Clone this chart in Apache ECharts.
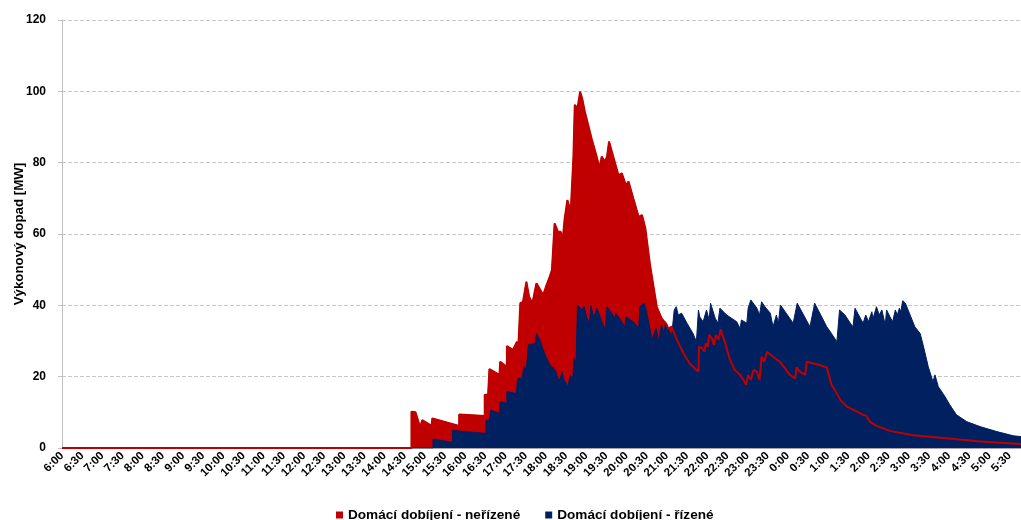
<!DOCTYPE html>
<html>
<head>
<meta charset="utf-8">
<script src="https://cdn.jsdelivr.net/npm/echarts@6/dist/echarts.min.js"></script>
<style>
  html, body { margin: 0; padding: 0; background: #fff; }
  #chart { width: 1021px; height: 520px; }
</style>
</head>
<body>
<div id="chart"></div>
<script>
// x = minutes after 6:00, y = MW
const timeLabels = [
  '6:00', '6:30', '7:00', '7:30', '8:00', '8:30', '9:00', '9:30', '10:00', '10:30',
  '11:00', '11:30', '12:00', '12:30', '13:00', '13:30', '14:00', '14:30', '15:00', '15:30',
  '16:00', '16:30', '17:00', '17:30', '18:00', '18:30', '19:00', '19:30', '20:00', '20:30',
  '21:00', '21:30', '22:00', '22:30', '23:00', '23:30', '0:00', '0:30', '1:00', '1:30',
  '2:00', '2:30', '3:00', '3:30', '4:00', '4:30', '5:00', '5:30'
];

const uncontrolled = [
  [0, 0], [520, 0], [520, 10.2], [526, 10.0], [533, 5.8], [536, 7.8], [550, 6.2], [551, 8.3],
  [591, 6.2], [591, 9.4], [629, 9.0], [629, 14.9], [634, 14.9], [636, 22.1], [651, 20.5],
  [652, 24.2], [662, 22.8], [662, 28.6], [671, 27.5], [677, 29.8], [679, 28.4], [682, 40.6],
  [686, 41], [691, 46.6], [695, 42.4], [700, 40.6], [706, 46.2], [716, 42.9], [721, 45.7],
  [725, 47.6], [729, 49.9], [733, 63], [738, 60.6], [742, 60.6], [745, 58.3], [748, 64.4],
  [752, 69.5], [757, 66.3], [761, 81.7], [763, 96.2], [767, 95.2], [771, 99.9], [774, 98],
  [778, 94.3], [788, 86.8], [795, 82.1], [800, 78.4], [803, 81.7], [808, 80.3], [811, 81.7],
  [814, 85.9], [823, 79.8], [828, 76.5], [833, 77], [839, 73.7], [843, 74.7], [850, 70],
  [858, 64.8], [863, 65.3], [868, 61.6], [875, 51.3], [885, 39.6], [892, 36.4], [900, 34.5],
  [902, 33.5], [907, 34], [915, 30.3], [925, 26.5], [934, 23.7], [947, 21.4], [948, 28.4],
  [953, 27.9], [956, 27], [958, 29.3], [961, 28.4], [963, 31.7], [967, 30.8], [970, 28.9],
  [973, 31.7], [977, 30.3], [980, 33.3], [987, 29.3], [994, 24.7], [1001, 21.9], [1009, 20.5],
  [1014, 19.1], [1018, 17.7], [1021, 20.5], [1025, 19.1], [1029, 21.9], [1034, 21.4],
  [1038, 19.1], [1041, 25.6], [1045, 24.2], [1049, 27], [1058, 25.6], [1068, 24.2],
  [1076, 22.3], [1083, 20.5], [1091, 19.5], [1093, 22.6], [1098, 21.4], [1106, 20.5],
  [1108, 24.2], [1123, 23.5], [1138, 22.6], [1145, 17.7], [1150, 16.3], [1158, 13.5],
  [1168, 11.6], [1183, 10.2], [1192, 9.3], [1197, 9.0], [1202, 7.4], [1210, 6.4], [1222, 5.5],
  [1232, 4.8], [1266, 3.6], [1316, 2.7], [1366, 1.8], [1427, 1.1]
];

const controlled = [
  [0, 0], [552, 0], [552, 2.5], [581, 1.6], [581, 4.9], [631, 4.1], [631, 7.8], [636, 7.8],
  [638, 10.6], [651, 9.7], [652, 13], [662, 12.5], [662, 15.8], [676, 15.3], [678, 19.5],
  [685, 19.5], [687, 22.8], [691, 22.3], [694, 28.9], [704, 29.3], [706, 32.1], [711, 30.3],
  [719, 26.1], [726, 23.3], [734, 21.9], [738, 19.5], [741, 19.1], [744, 21.4], [747, 19.1],
  [753, 17.2], [756, 20.5], [760, 19.5], [762, 25.1], [765, 24.2], [767, 40.1], [773, 38.7],
  [777, 39.6], [781, 36.4], [785, 35], [787, 40.1], [791, 36.4], [796, 39.2], [808, 33.1],
  [811, 39.6], [823, 36.4], [824, 37.8], [838, 34], [839, 36.8], [850, 35.4], [858, 33.6],
  [860, 39.6], [866, 40.6], [870, 38.2], [878, 30.3], [884, 33.5], [888, 29.8], [892, 34.5],
  [896, 32.1], [898, 35.4], [903, 33.1], [907, 31.2], [911, 38.7], [914, 39.6], [917, 37.3],
  [922, 37.8], [930, 35], [939, 32.1], [944, 29.8], [947, 38.7], [949, 36.8], [954, 35.4],
  [959, 38.7], [963, 35.9], [965, 40.6], [972, 36.4], [976, 35], [979, 39.2], [989, 37.3],
  [1004, 35.4], [1009, 33.5], [1011, 35.9], [1019, 35], [1021, 39.2], [1025, 41.5],
  [1034, 39.2], [1038, 37.3], [1041, 41], [1046, 39.6], [1054, 37.8], [1058, 34], [1063, 37.3],
  [1066, 35], [1069, 40.1], [1088, 35], [1094, 40.6], [1113, 34], [1120, 40.6], [1138, 34],
  [1145, 32.1], [1153, 29.8], [1157, 38.7], [1165, 37.3], [1173, 35], [1177, 34], [1180, 39.2],
  [1192, 35], [1196, 37.3], [1200, 35.4], [1205, 38.2], [1207, 36.4], [1212, 39.6],
  [1216, 37.3], [1220, 38.7], [1225, 34.5], [1227, 38.7], [1232, 36.8], [1236, 35.4],
  [1240, 38.7], [1243, 37.3], [1246, 39.2], [1248, 38.2], [1251, 41.3], [1255, 40.6],
  [1262, 37.3], [1269, 34], [1277, 32.1], [1282, 28.4], [1289, 22.8], [1296, 18.6],
  [1299, 20.5], [1304, 17.2], [1314, 14.4], [1321, 12.1], [1331, 9.3], [1346, 7.4], [1366, 6],
  [1391, 4.6], [1416, 3.4], [1427, 3.2]
];

const nameUncontrolled = 'Domácí dobíjení - neřízené';
const nameControlled = 'Domácí dobíjení - řízené';

const red = '#c00000';
const navy = '#002060';
const font = "'Liberation Sans', Arial, sans-serif";

const chart = echarts.init(document.getElementById('chart'));

chart.setOption({
  animation: false,
  textStyle: { fontFamily: font },
  grid: { left: 62, right: 0, top: 20, bottom: 72, containLabel: false, outerBoundsMode: 'none' },
  legend: {
    top: 503,
    left: 331,
    icon: 'rect',
    itemWidth: 7,
    itemHeight: 7,
    itemGap: 25,
    data: [nameUncontrolled, nameControlled],
    textStyle: { color: '#000', fontSize: 13.6, fontWeight: 'bold', fontFamily: font }
  },
  xAxis: {
    type: 'value',
    min: 0,
    max: 1427,
    interval: 30,
    axisLine: { lineStyle: { color: '#a6a6a6' } },
    axisTick: { show: false },
    splitLine: { show: false },
    axisLabel: {
      rotate: 45,
      margin: 6,
      showMaxLabel: false,
      color: '#000',
      fontSize: 11.5,
      fontWeight: 'bold',
      fontFamily: font,
      formatter: (v) => (v % 30 === 0 ? timeLabels[v / 30] || '' : '')
    }
  },
  yAxis: {
    type: 'value',
    min: 0,
    max: 120,
    interval: 20,
    name: 'Výkonový dopad [MW]',
    nameLocation: 'middle',
    nameGap: 36,
    nameMoveOverlap: false,
    nameTextStyle: { color: '#000', fontSize: 13.3, fontWeight: 'bold', fontFamily: font },
    axisLine: { show: true, lineStyle: { color: '#bfbfbf' } },
    axisTick: { show: true, length: 4, lineStyle: { color: '#bfbfbf' } },
    splitLine: { lineStyle: { color: '#c8c8c8', type: 'dashed' } },
    axisLabel: { margin: 16, color: '#000', fontSize: 12, fontWeight: 'bold', fontFamily: font }
  },
  series: [
    {
      name: nameUncontrolled,
      type: 'line',
      data: uncontrolled,
      symbol: 'none',
      z: 1,
      itemStyle: { color: red },
      lineStyle: { color: red, width: 1 },
      areaStyle: { color: red, opacity: 1 }
    },
    {
      name: nameControlled,
      type: 'line',
      data: controlled,
      symbol: 'none',
      z: 2,
      itemStyle: { color: navy },
      lineStyle: { color: navy, width: 1 },
      areaStyle: { color: navy, opacity: 1 }
    },
    {
      name: nameUncontrolled,
      type: 'line',
      data: uncontrolled,
      symbol: 'none',
      z: 3,
      itemStyle: { color: red },
      lineStyle: { color: red, width: 2 }
    }
  ]
});
</script>
</body>
</html>
